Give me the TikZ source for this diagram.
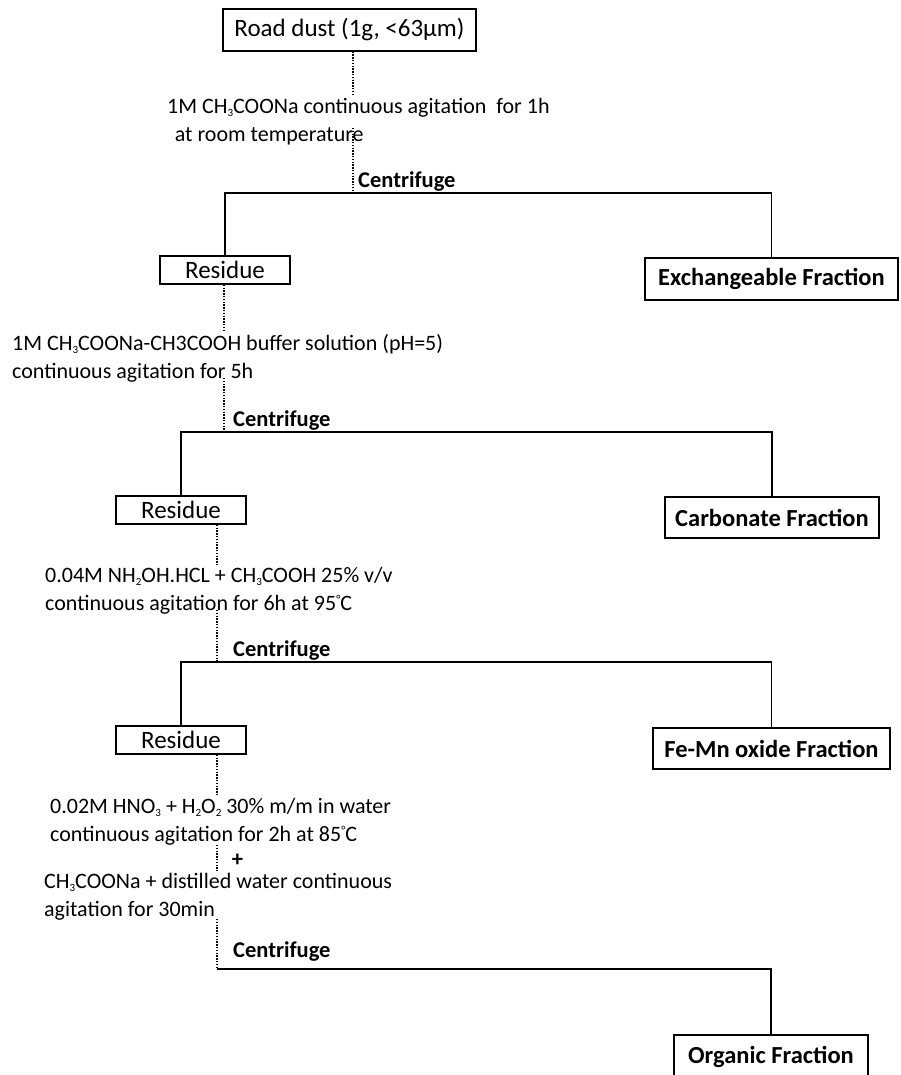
\documentclass[tikz,border=0pt]{standalone}
\usepackage{fontspec}
\setmainfont{Carlito}
\usetikzlibrary{positioning}
\newcommand{\chemsub}[1]{\raisebox{-3pt}{\fontsize{11}{11}\selectfont #1}}
\newcommand{\degsign}{\raisebox{7pt}{\fontsize{12}{12}\selectfont °}}
\tikzset{
  sample/.style   = {rectangle, draw=black, line width=1.4pt, align=center,
                     font=\fontsize{25}{29}\selectfont, inner sep=0pt},
  fraction/.style = {rectangle, draw=black, line width=1.4pt, align=center,
                     font=\fontsize{24.5}{29}\selectfont\bfseries, inner sep=0pt},
  reagent/.style  = {align=left, anchor=base west, inner sep=0pt,
                     font=\fontsize{22}{28}\selectfont},
  cfuge/.style    = {font=\fontsize{22.5}{26}\selectfont\bfseries, inner sep=0pt},
  dotline/.style  = {line width=1.5pt, dash pattern=on 1.4pt off 1.4pt},
  split/.style    = {line width=1.4pt},
}
\begin{document}
\begin{tikzpicture}[x=1pt, y=-1pt]
\useasboundingbox (0,0) rectangle (900,1075);

% ---------- Samples and residues ----------
\node[sample, minimum width=253pt, minimum height=42pt] (dust) at (349.5,30) {Road dust (1g, <63µm)};
\node[sample, minimum width=130pt, minimum height=28pt] (res1) at (225,270) {Residue};
\node[sample, minimum width=130pt, minimum height=28pt] (res2) at (181,510) {Residue};
\node[sample, minimum width=130pt, minimum height=28pt] (res3) at (181,740) {Residue};

% ---------- Fractions ----------
\node[fraction, minimum width=253pt, minimum height=42pt] (exch) at (771.5,279) {Exchangeable Fraction};
\node[fraction, minimum width=214pt, minimum height=41pt] (carb) at (772,517.5) {Carbonate Fraction};
\node[fraction, minimum width=237pt, minimum height=41pt] (femn) at (771.5,748.5) {Fe-Mn oxide Fraction};
\node[fraction, minimum width=194pt, minimum height=44pt] (org) at (771,1057) {Organic Fraction};

% ---------- Reagents (base = last line) ----------
\node[reagent] (step1) at (167,142) {1M CH\chemsub{3}COONa continuous agitation\ \ for 1h\\\hspace*{0.35em}at room temperature};
\node[reagent] (step2) at (12,378) {1M CH\chemsub{3}COONa-CH3COOH buffer solution (pH=5)\\continuous agitation for 5h};
\node[reagent] (step3) at (45,610) {0.04M NH\chemsub{2}OH.HCL + CH\chemsub{3}COOH 25\% v/v\\continuous agitation for 6h at 95\degsign C};
\node[reagent] (step4a) at (50,841) {0.02M HNO\chemsub{3} + H\chemsub{2}O\chemsub{2} 30\% m/m in water\\continuous agitation for 2h at 85\degsign C};
\node[reagent] (step4b) at (44,916) {CH\chemsub{3}COONa + distilled water continuous\\agitation for 30min};

% ---------- Centrifuge junctions ----------
\coordinate (c1) at (353,193);
\coordinate (c2) at (224,432);
\coordinate (c3) at (217,662);
\coordinate (c4) at (217,969);
\node[cfuge, above right=1.5pt and 5pt of c1] (cf1) {Centrifuge};
\node[cfuge, above right=1.5pt and 9pt of c2] (cf2) {Centrifuge};
\node[cfuge, above right=1.5pt and 16pt of c3] (cf3) {Centrifuge};
\node[cfuge, above right=7pt and 16pt of c4] (cf4) {Centrifuge};

% ---------- Dotted steps ----------
\draw[dotline] (dust.south -| c1) -- ([yshift=4pt]c1 |- step1.north);
\draw[dotline] ([yshift=14pt]c1 |- step1.base) -- (c1);
\draw[dotline] (res1.south -| c2) -- ([yshift=4pt]c2 |- step2.north);
\draw[dotline] (c2 |- step2.base) -- (c2);
\draw[dotline] (res2.south -| c3) -- ([yshift=2pt]c3 |- step3.north);
\draw[dotline] (c3 |- step3.base) -- (c3);
\draw[dotline] (res3.south -| c4) -- ([yshift=2pt]c4 |- step4a.north);
\draw[dotline] ([yshift=-4pt]c4 |- step4a.base) -- ([yshift=2pt]c4 |- step4b.north)
  node[cfuge, pos=0.6, right=14pt] (plus) {+};
\draw[dotline] ([yshift=-3pt]c4 |- step4b.base) -- (c4);

% ---------- Splits ----------
\draw[split] (res1.north) |- (c1) -| (exch.north);
\draw[split] (res2.north) |- (c2) -| (carb.north);
\draw[split] (res3.north) |- (c3) -| (femn.north);
\draw[split] (c4) -| (org.north);

\end{tikzpicture}
\end{document}
